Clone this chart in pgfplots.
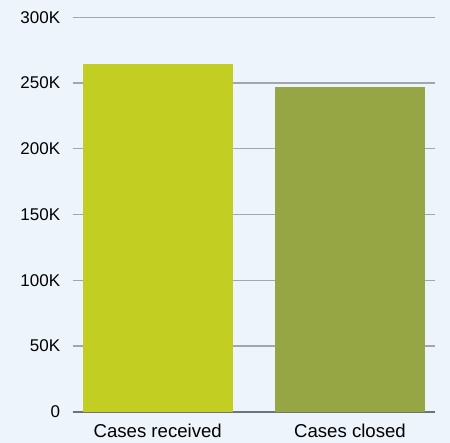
\documentclass[border=0pt]{standalone}
\usepackage{pgfplots}
\pgfplotsset{compat=1.18}
\usepackage{fontspec}
\setmainfont{Liberation Sans}
\definecolor{bg}{HTML}{EEF4FB}
\definecolor{barA}{HTML}{C3CE22}
\definecolor{barB}{HTML}{97A644}
\definecolor{gridc}{HTML}{A3A6AA}
\definecolor{axc}{HTML}{6E7378}
\begin{document}
\begin{tikzpicture}[x=1pt,y=1pt]
\fill[bg] (0,0) rectangle (450,443);
\useasboundingbox (0,0) rectangle (450,443);
\begin{axis}[
  at={(72.7pt,31.3pt)}, anchor=south west,
  scale only axis, width=362.3pt, height=394.4pt,
  xmin=-0.442, xmax=1.442, ymin=0, ymax=300000,
  separate axis lines,
  axis x line*=bottom, axis y line*=left,
  x axis line style={axc, line width=2pt, -},
  y axis line style={draw=none, -},
  major tick length=0pt,
  ymajorgrids, grid style={gridc, line width=1.2pt},
  xtick={0,1}, xticklabels={Cases received, Cases closed},
  ytick={0,50000,100000,150000,200000,250000,300000},
  yticklabels={0,50K,100K,150K,200K,250K,300K},
  scaled y ticks=false,
  ticklabel style={text=black},
  yticklabel style={font=\fontsize{17}{20}\selectfont, anchor=east, xshift=-9pt},
  xticklabel style={font=\fontsize{18.6}{22}\selectfont, anchor=north, yshift=-9pt},
  clip=false,
]
\addplot[ybar, bar width=150pt, bar shift=0pt, fill=barA, draw=none] coordinates {(0,264500)};
\addplot[ybar, bar width=150pt, bar shift=0pt, fill=barB, draw=none] coordinates {(1,247200)};
\end{axis}
\end{tikzpicture}
\end{document}
